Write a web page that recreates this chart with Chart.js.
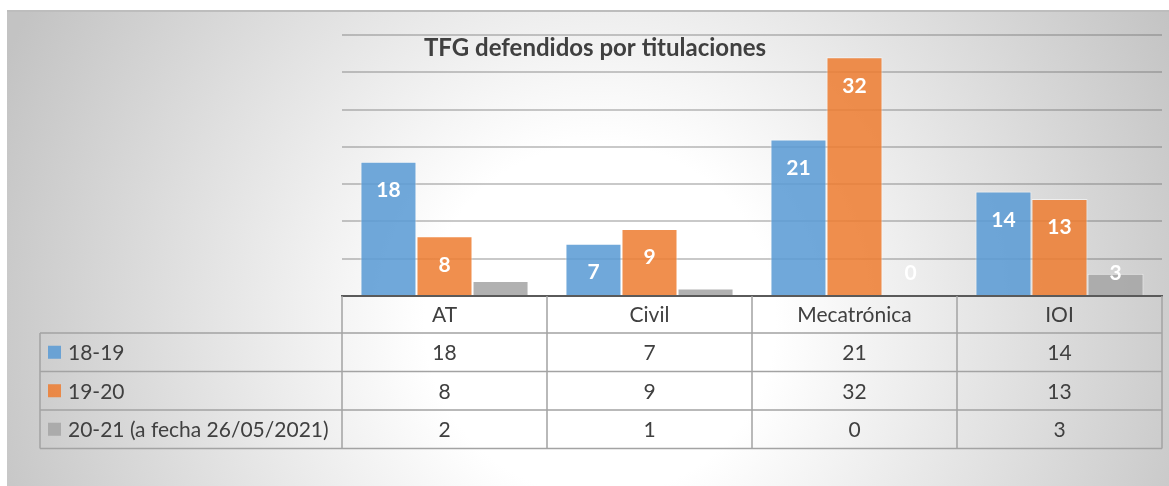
<!DOCTYPE html>
<html>
<head>
<meta charset="utf-8">
<script src="https://cdn.jsdelivr.net/npm/chart.js@4/dist/chart.umd.min.js"></script>
<style>
  html, body { margin: 0; padding: 0; background: #ffffff; }
  #wrap { width: 1169px; height: 486px; position: relative; }
</style>
</head>
<body>
<div id="wrap"><canvas id="c" width="1169" height="486"></canvas></div>
<script>
// ---- data ----
const chartTitle = 'TFG defendidos por titulaciones';
const categories = ['AT', 'Civil', 'Mecatrónica', 'IOI'];
const seriesNames = ['18-19', '19-20', '20-21 (a fecha 26/05/2021)'];
const values1819 = [18, 7, 21, 14];
const values1920 = [8, 9, 32, 13];
const values2021 = [2, 1, 0, 3];
const yMax = 35;
const yStep = 5;

const seriesColors = ['rgba(91,155,213,0.87)', 'rgba(237,125,49,0.86)', 'rgba(165,165,165,0.87)'];
const FONT = 'Lato, "Open Sans", sans-serif';
const TEXT = '#404040';

const bgPlugin = {
  id: 'bg',
  beforeDraw(chart) {
    const ctx = chart.ctx;
    ctx.save();
    ctx.fillStyle = '#ffffff';
    ctx.fillRect(0, 0, chart.width, chart.height);
    const g = ctx.createRadialGradient(600, 320, 0, 600, 320, 650);
    g.addColorStop(0, '#ffffff');
    g.addColorStop(0.27, '#ffffff');
    g.addColorStop(1, '#c3c3c3');
    ctx.fillStyle = g;
    ctx.fillRect(7, 10, chart.width - 7, chart.height - 10);
    ctx.fillStyle = '#bdbdbd';
    ctx.fillRect(7, 10, chart.width - 7, 2);
    // title
    ctx.fillStyle = TEXT;
    ctx.font = 'bold 24px ' + FONT;
    ctx.textAlign = 'center';
    ctx.textBaseline = 'middle';
    ctx.fillText(chartTitle, (chart.width + 21) / 2, 48);
    ctx.restore();
  }
};

const labelsPlugin = {
  id: 'barLabels',
  afterDatasetsDraw(chart) {
    const ctx = chart.ctx;
    const base = chart.scales.y.getPixelForValue(0);
    ctx.save();
    ctx.fillStyle = '#ffffff';
    ctx.font = 'bold 21px ' + FONT;
    ctx.textAlign = 'center';
    ctx.textBaseline = 'middle';
    chart.data.datasets.forEach((ds, di) => {
      chart.getDatasetMeta(di).data.forEach((bar, i) => {
        const y = Math.min(bar.y + 28.5, base - 23);
        ctx.fillText(String(ds.data[i]), bar.x, y);
      });
    });
    ctx.restore();
  }
};

const tablePlugin = {
  id: 'dataTable',
  afterDraw(chart) {
    const ctx = chart.ctx;
    const x = chart.scales.x;
    const area = chart.chartArea;
    const colW = (area.right - area.left) / categories.length;
    const top = area.bottom;
    const headerH = 37;
    const rowH = 38.5;
    const legendLeft = area.left - 302;
    const bottom = top + headerH + rowH * seriesNames.length;
    const rows = [values1819, values1920, values2021];

    ctx.save();
    ctx.strokeStyle = '#a3a3a3';
    ctx.lineWidth = 1.5;
    ctx.beginPath();
    for (let i = 0; i <= categories.length; i++) {
      const vx = area.left + i * colW;
      ctx.moveTo(vx, top);
      ctx.lineTo(vx, bottom);
    }
    ctx.moveTo(legendLeft, top + headerH);
    ctx.lineTo(legendLeft, bottom);
    for (let r = 0; r <= seriesNames.length; r++) {
      const hy = top + headerH + r * rowH;
      ctx.moveTo(legendLeft, hy);
      ctx.lineTo(area.right, hy);
    }
    ctx.stroke();

    ctx.fillStyle = TEXT;
    ctx.font = '21px ' + FONT;
    ctx.textBaseline = 'middle';
    ctx.textAlign = 'center';
    categories.forEach((c, i) => {
      ctx.fillText(c, x.getPixelForValue(i), top + headerH / 2 + 1);
    });
    rows.forEach((vals, r) => {
      const cy = top + headerH + r * rowH + rowH / 2;
      vals.forEach((v, i) => {
        ctx.fillStyle = TEXT;
        ctx.textAlign = 'center';
        ctx.fillText(String(v), x.getPixelForValue(i), cy + 1);
      });
      ctx.fillStyle = seriesColors[r];
      ctx.fillRect(legendLeft + 8, cy - 6.5, 13, 13);
      ctx.fillStyle = TEXT;
      ctx.textAlign = 'left';
      ctx.fillText(seriesNames[r], legendLeft + 28, cy + 1);
    });
    ctx.restore();
  }
};

const seriesValues = [values1819, values1920, values2021];

new Chart(document.getElementById('c'), {
  type: 'bar',
  data: {
    labels: categories,
    datasets: seriesNames.map((name, i) => ({
      label: name,
      data: seriesValues[i],
      backgroundColor: seriesColors[i],
      borderColor: 'rgba(255,255,255,0.55)',
      borderWidth: 1,
      categoryPercentage: 0.82,
      barPercentage: 1.0
    }))
  },
  options: {
    responsive: false,
    animation: false,
    devicePixelRatio: 1,
    layout: { padding: { left: 342, right: 7, top: 35, bottom: 190 } },
    plugins: {
      legend: { display: false },
      title: { display: false },
      tooltip: { enabled: false }
    },
    scales: {
      x: {
        ticks: { display: false },
        grid: { display: false, drawTicks: false },
        border: { display: true, color: '#5a5a5a', width: 2 }
      },
      y: {
        min: 0,
        max: yMax,
        ticks: { display: false, stepSize: yStep },
        grid: { color: 'rgba(100,100,100,0.35)', lineWidth: 2, drawTicks: false },
        border: { display: false }
      }
    }
  },
  plugins: [bgPlugin, labelsPlugin, tablePlugin]
});
</script>
</body>
</html>
